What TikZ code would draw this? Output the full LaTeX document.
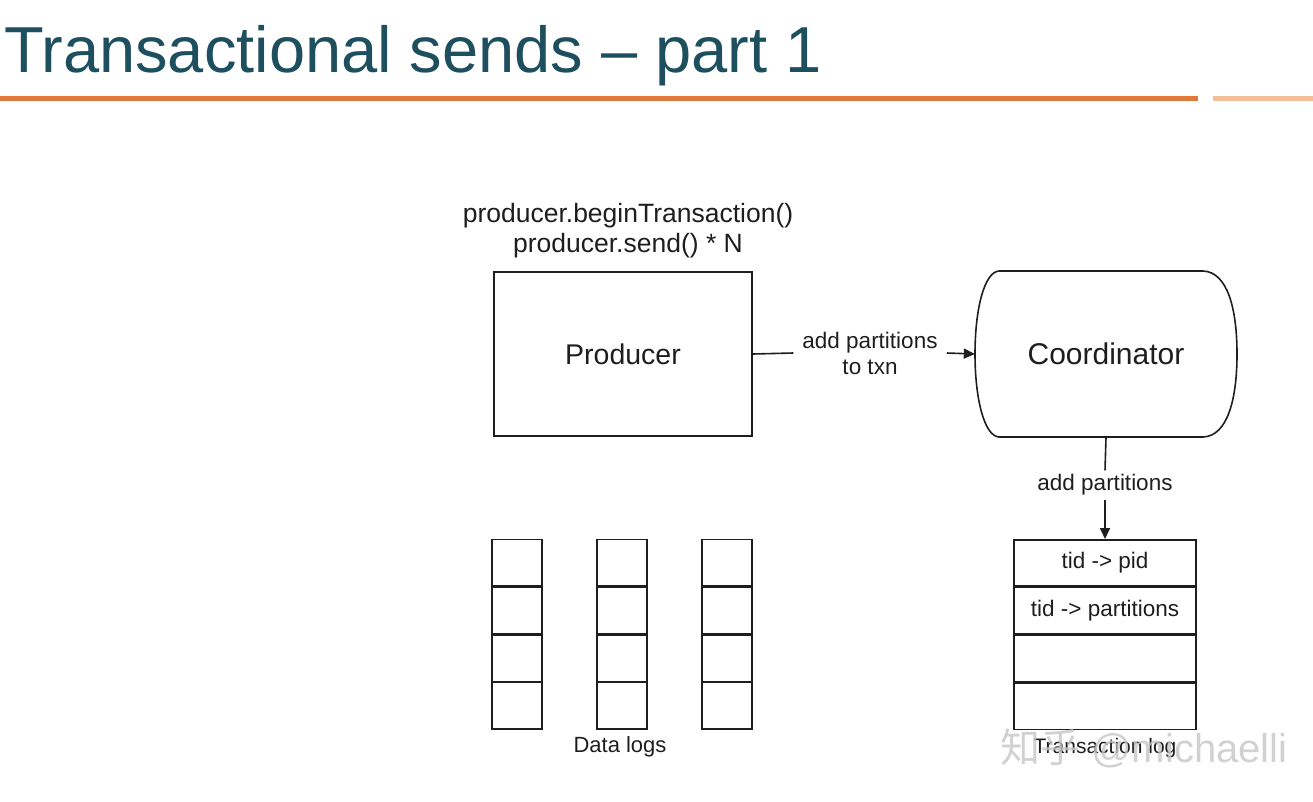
\documentclass[tikz,border=0pt]{standalone}
\usepackage{fontspec}
\setmainfont{Liberation Sans}
\newfontfamily\cjkfont{Noto Sans CJK SC}
\usetikzlibrary{arrows.meta}
\definecolor{titleteal}{HTML}{1D4F5F}
\definecolor{rulorange}{HTML}{E0793A}
\definecolor{rullight}{HTML}{F2BE98}
\definecolor{inkgray}{HTML}{1E1E1E}
\tikzset{
  box/.style={draw=inkgray, line width=1.6pt, rectangle, inner sep=0pt},
  lbl/.style={text=inkgray, font=\fontsize{22.5}{26}\selectfont, align=center, inner sep=10pt},
  conn/.style={draw=inkgray, line width=1.6pt},
  tri/.style={-{Triangle[length=11pt,width=10pt]}},
  cell/.style={box, minimum width=50pt, minimum height=46.25pt, line width=1.4pt},
  trow/.style={box, minimum width=182pt, minimum height=46.25pt, font=\fontsize{22.5}{26}\selectfont, text=inkgray}
}
\begin{document}
\begin{tikzpicture}[x=1pt,y=-1pt]
\useasboundingbox (0,0) rectangle (1313,801);
% title
\node[anchor=base west, text=titleteal, font=\fontsize{65}{72}\selectfont, inner sep=0pt] (title) at (4,72) {Transactional sends -- part 1};
\fill[rulorange] (0,96) rectangle (1198,101);
\fill[rullight] (1213,96) rectangle (1313,101);
% producer
\node[box, minimum width=258pt, minimum height=164pt, font=\fontsize{28.5}{32}\selectfont, text=inkgray] (prod) at (623,354) {Producer};
\node[text=inkgray, font=\fontsize{26.5}{30}\selectfont, align=center, inner sep=0pt, anchor=south] (calls) at (628,258) {producer.beginTransaction()\\producer.send() * N};
% coordinator
\node[minimum width=262pt, minimum height=166pt, font=\fontsize{30}{33}\selectfont, text=inkgray, inner sep=0pt] (coord) at (1106,354) {Coordinator};
\draw[conn] (999,271) -- (1203,271)
  .. controls (1228,272) and (1237,310) .. (1237,354)
  .. controls (1237,398) and (1228,436) .. (1203,437)
  -- (999,437)
  .. controls (984,436) and (975,398) .. (975,354)
  .. controls (975,310) and (984,272) .. (999,271) -- cycle;
% producer -> coordinator
\node[lbl, inner sep=9pt] (l1) at (870,353) {add partitions\\to txn};
\draw[conn] (prod.east) -- (l1.west);
\draw[conn, tri] (l1.east) -- (coord.west);
% transaction log
\node[trow, anchor=north] (t1) at (1105,539) {tid -> pid};
\node[trow, anchor=north] (t2) at (t1.south) {tid -> partitions};
\node[trow, anchor=north] (t3) at (t2.south) {};
\node[trow, anchor=north] (t4) at (t3.south) {};
\node[lbl, inner sep=4pt] (l2) at (1105,485) {add partitions};
\draw[conn] (coord.south) -- (l2.north);
\draw[conn, tri] (l2.south) -- (t1.north);
\node[text=inkgray, font=\fontsize{21}{24}\selectfont, inner sep=0pt] (tlog) at (1105,748) {Transaction log};
% data logs
\foreach \c/\x in {a/517, b/622, c/727}{
  \node[cell, anchor=north] (\c1) at (\x,539) {};
  \node[cell, anchor=north] (\c2) at (\c1.south) {};
  \node[cell, anchor=north] (\c3) at (\c2.south) {};
  \node[cell, anchor=north] (\c4) at (\c3.south) {};
}
\node[text=inkgray, font=\fontsize{22}{25}\selectfont, inner sep=0pt] (dlogs) at (620,747) {Data logs};
% watermark
\node[anchor=west, text=gray!45, opacity=0.8, font=\fontsize{40}{44}\selectfont, inner sep=0pt] (wm) at (1000,748) {{\cjkfont 知乎} @michaelli};
\end{tikzpicture}
\end{document}
